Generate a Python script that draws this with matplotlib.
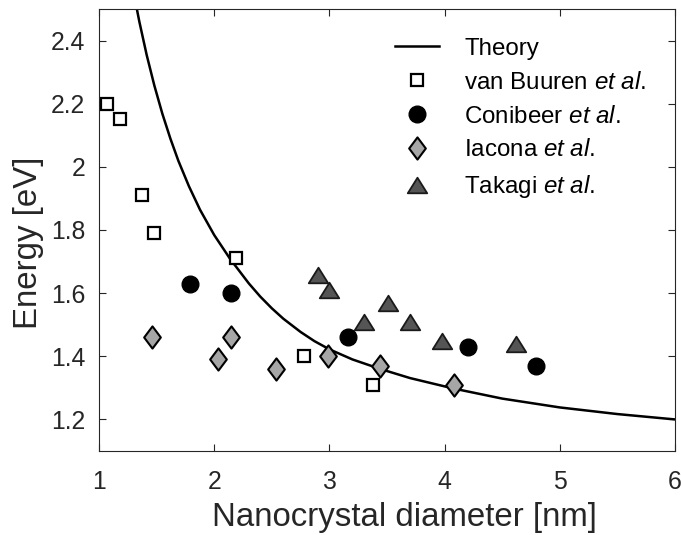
import matplotlib
matplotlib.use("Agg")
import matplotlib.pyplot as plt
from matplotlib.path import Path

# theory curve, points
theory_d = [1.31, 1.35, 1.414, 1.48, 1.55, 1.62, 1.689, 1.78, 1.877, 2.0, 2.137,
            2.3, 2.4, 2.5, 2.6, 2.75, 2.87, 3.0, 3.2, 3.44, 3.7, 4.076,
            4.5, 5.0, 5.5, 6.0]
theory_E = [2.534, 2.46, 2.354, 2.258, 2.168, 2.089, 2.019, 1.939, 1.864, 1.784, 1.709,
            1.631, 1.589, 1.552, 1.519, 1.477, 1.448, 1.422, 1.390, 1.360, 1.331, 1.298,
            1.266, 1.238, 1.217, 1.2]

buuren_d = [1.07, 1.18, 1.37, 1.48, 2.19, 2.78, 3.38]
buuren_E = [2.20, 2.15, 1.91, 1.79, 1.71, 1.40, 1.31]

conibeer_d = [1.79, 2.15, 3.16, 4.20, 4.79]
conibeer_E = [1.63, 1.60, 1.46, 1.43, 1.37]

iacona_d = [1.46, 2.03, 2.15, 2.54, 2.99, 3.44, 4.08]
iacona_E = [1.46, 1.39, 1.46, 1.36, 1.40, 1.37, 1.31]

takagi_d = [2.90, 3.00, 3.30, 3.51, 3.70, 3.98, 4.62]
takagi_E = [1.657, 1.61, 1.51, 1.57, 1.51, 1.45, 1.44]

xticks = [1, 2, 3, 4, 5, 6]
yticks = [1.2, 1.4, 1.6, 1.8, 2.0, 2.2, 2.4]
ytick_labels = ["1.2", "1.4", "1.6", "1.8", "2", "2.2", "2.4"]

plt.rcParams['font.family'] = ['Liberation Sans', 'DejaVu Sans']
plt.rcParams['mathtext.fontset'] = 'custom'
plt.rcParams['mathtext.rm'] = 'Liberation Sans'
plt.rcParams['mathtext.it'] = 'Liberation Sans:italic'

txt = '#262626'

# MATLAB-like marker shapes
diamond = Path([(0, 1), (0.75, 0), (0, -1), (-0.75, 0), (0, 1)],
               [Path.MOVETO, Path.LINETO, Path.LINETO, Path.LINETO, Path.CLOSEPOLY])
triangle = Path([(0, 0.8), (1, -0.8), (-1, -0.8), (0, 0.8)],
                [Path.MOVETO, Path.LINETO, Path.LINETO, Path.CLOSEPOLY])

fig = plt.figure(figsize=(6.81, 5.35), dpi=100)
ax = fig.add_axes([0.1454, 0.157, 0.8458, 0.8262])

ax.plot(theory_d, theory_E, '-', color='k', lw=1.8, label='Theory')
ax.plot(buuren_d, buuren_E, 's', ms=9, mfc='white', mec='k', mew=1.6, ls='none',
        label=r'van Buuren $\mathit{et\ al.}$')
ax.plot(conibeer_d, conibeer_E, 'o', ms=12, mfc='k', mec='k', ls='none',
        label=r'Conibeer $\mathit{et\ al.}$')
ax.plot(iacona_d, iacona_E, marker=diamond, ms=16, mfc='#a6a6a6', mec='k', mew=1.5,
        ls='none', label=r'Iacona $\mathit{et\ al.}$')
ax.plot(takagi_d, takagi_E, marker=triangle, ms=14, mfc='#555555', mec='#1a1a1a', mew=1.3,
        ls='none', label=r'Takagi $\mathit{et\ al.}$')

ax.set_xlim(1, 6)
ax.set_ylim(1.1, 2.5)
ax.set_xticks(xticks)
ax.set_yticks(yticks)
ax.set_yticklabels(ytick_labels)
ax.tick_params(direction='in', length=5, width=0.8, color=txt, labelcolor=txt,
               labelsize=17.8, top=True, right=True)
ax.tick_params(axis='x', pad=13.5)
ax.tick_params(axis='y', pad=10)
for s in ax.spines.values():
    s.set_color(txt)
    s.set_linewidth(0.8)

ax.set_xlabel('Nanocrystal diameter [nm]', fontsize=23.8, color=txt)
ax.set_ylabel('Energy [eV]', fontsize=23.8, color=txt)
ax.xaxis.set_label_coords(0.530, -0.115)
ax.yaxis.set_label_coords(-0.0955, 0.4717)

leg = ax.legend(loc='upper left', bbox_to_anchor=(0.4845, 0.973), frameon=False,
                fontsize=17.4, handlelength=1.8, handletextpad=1.07,
                labelspacing=0.49, borderaxespad=0.3)
for t in leg.get_texts():
    t.set_color('black')

fig.savefig('out.png', dpi=100)
